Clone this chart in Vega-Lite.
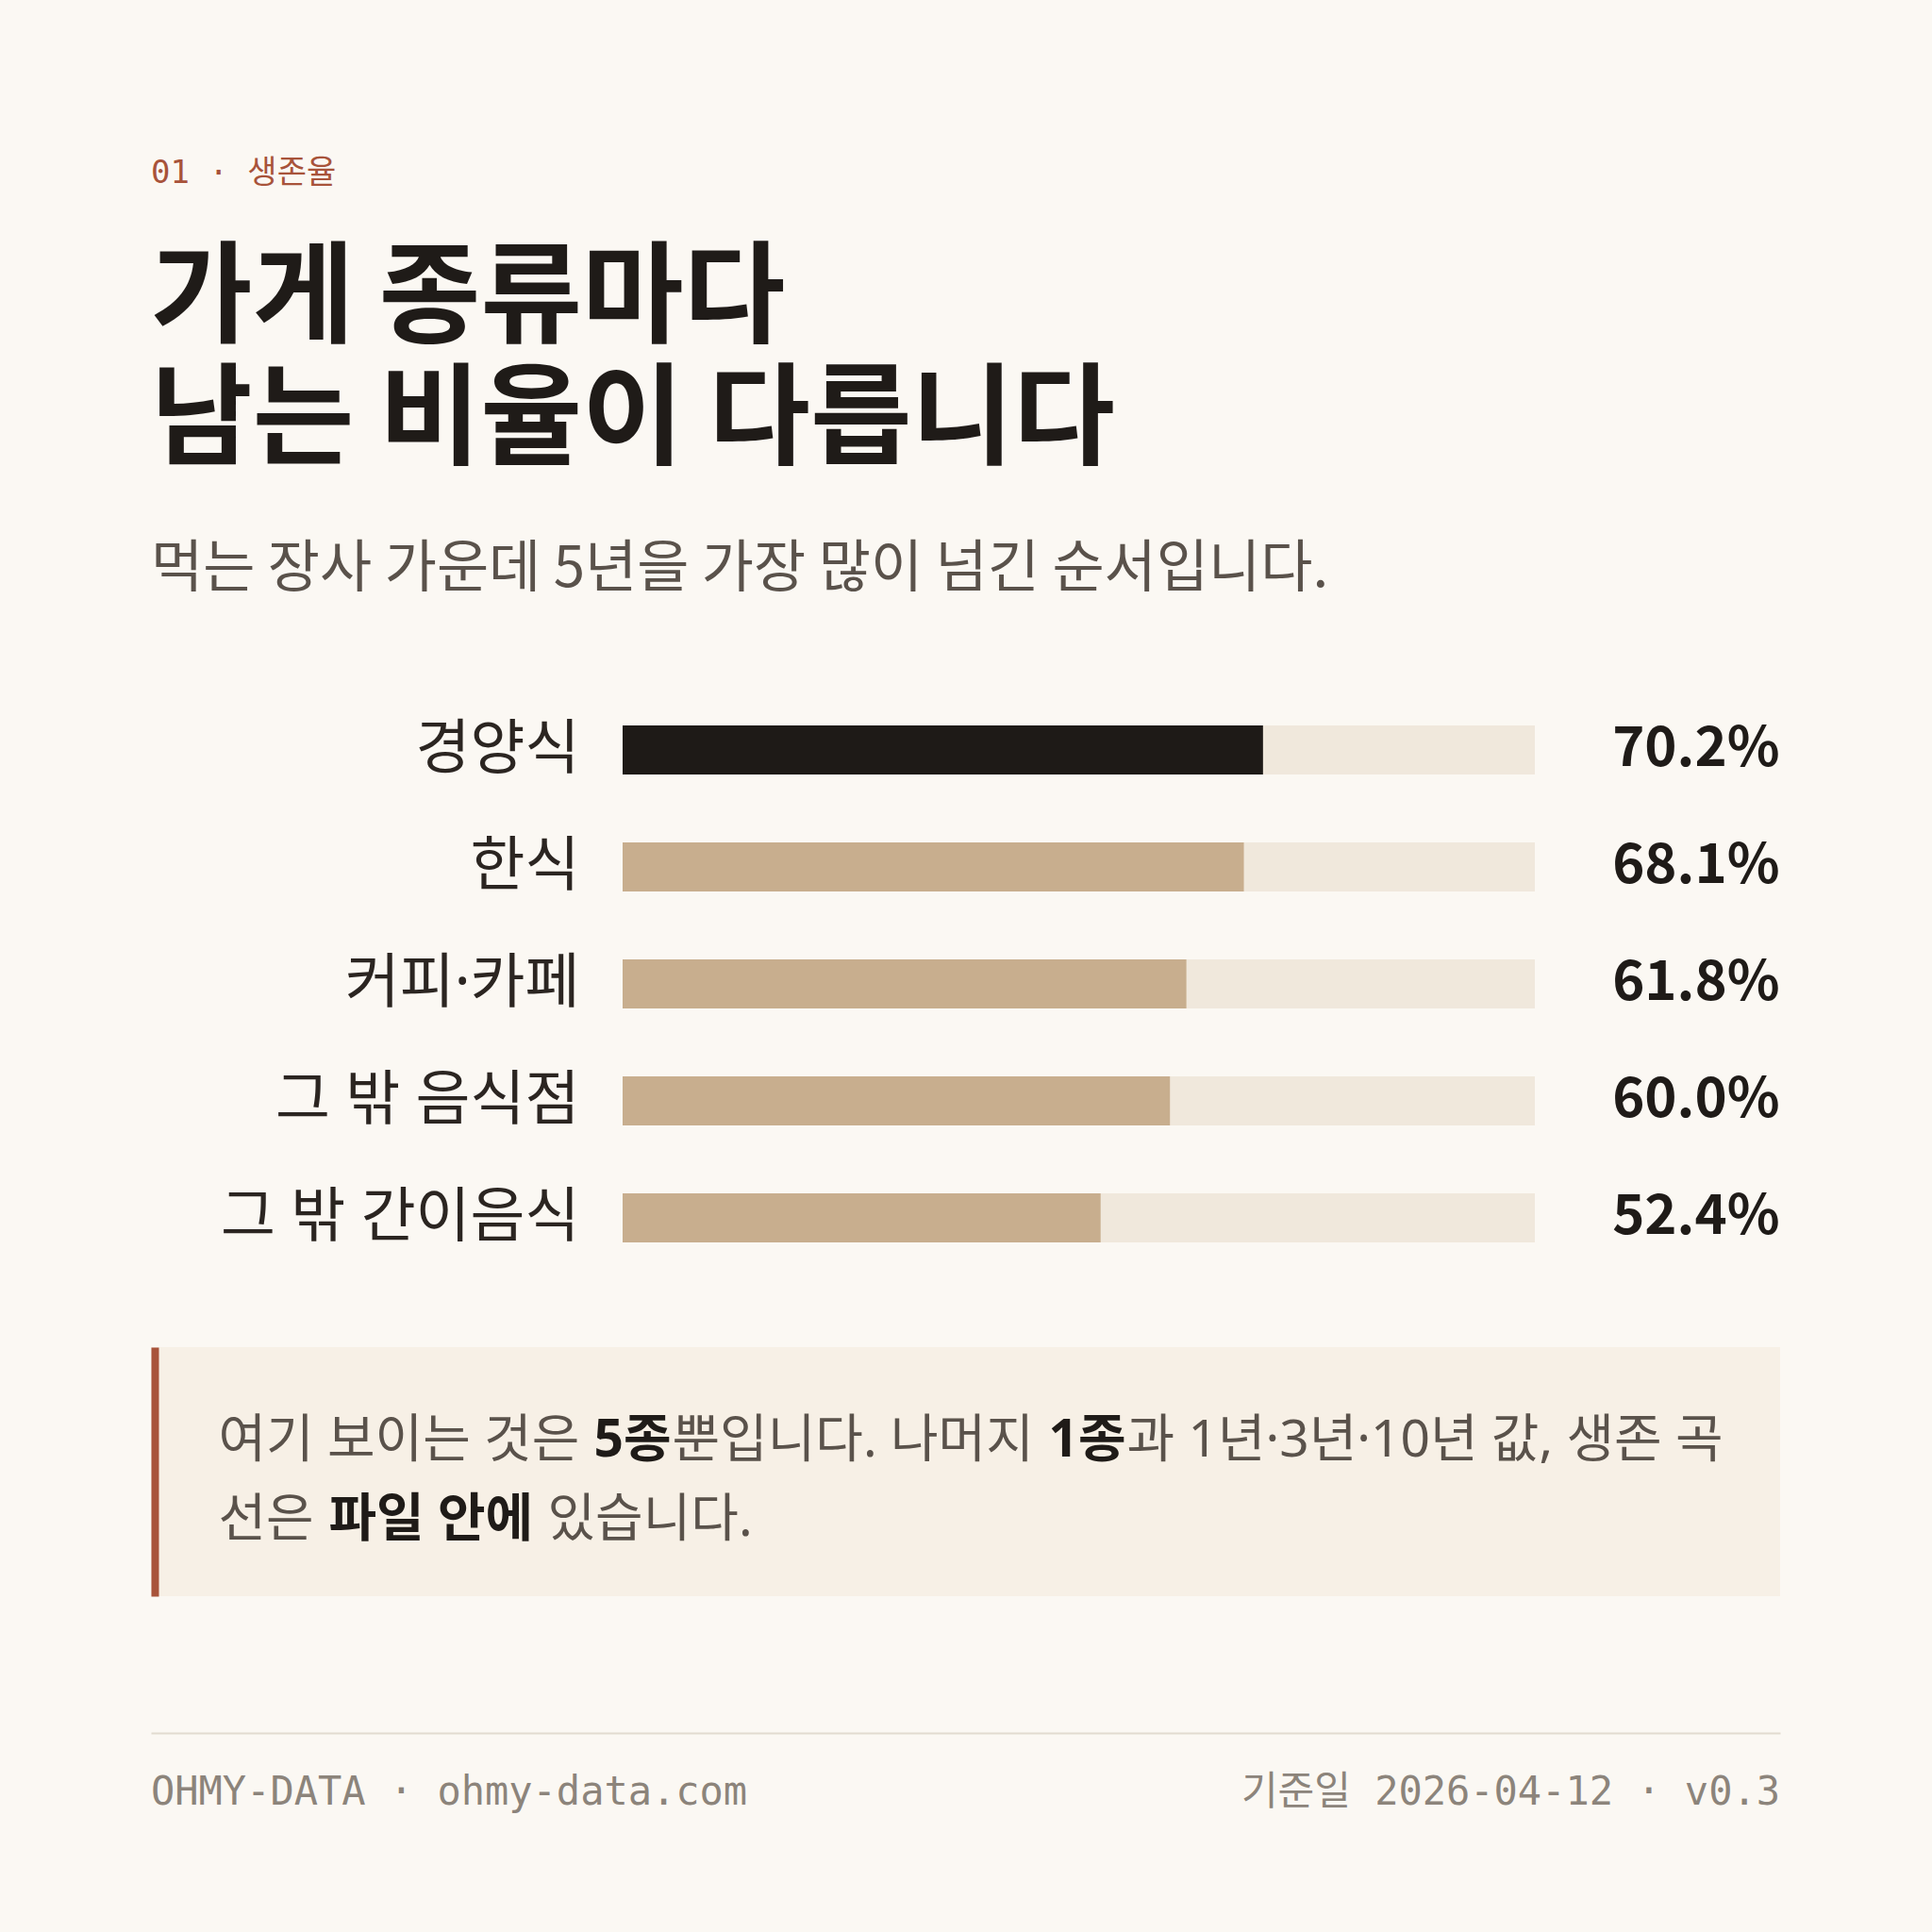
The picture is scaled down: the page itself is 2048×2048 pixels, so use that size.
{
  "$schema": "https://vega.github.io/schema/vega-lite/v6.json",
  "background": "#fbf8f3",
  "padding": {"left": 160, "top": 167, "right": 161, "bottom": 87},
  "config": {
    "font": "Noto Sans CJK KR",
    "view": {"stroke": null},
    "scale": {"bandPaddingInner": 0.58, "bandPaddingOuter": 0.29}
  },
  "title": {
    "text": "01 · 생존율",
    "anchor": "start",
    "font": "DejaVu Sans Mono, Noto Sans CJK KR",
    "fontSize": 34,
    "fontWeight": "normal",
    "color": "#a8533a",
    "offset": 59
  },
  "align": "none",
  "spacing": 145,
  "vconcat": [
    {
      "align": "none",
      "spacing": 75,
      "vconcat": [
        {
          "width": 1727,
          "height": 620,
          "title": {
            "text": ["가게 종류마다", "남는 비율이 다릅니다"],
            "subtitle": "먹는 장사 가운데 5년을 가장 많이 넘긴 순서입니다.",
            "anchor": "start",
            "frame": "bounds",
            "font": "Noto Sans CJK KR",
            "fontSize": 117,
            "fontWeight": "bold",
            "color": "#1f1b18",
            "lineHeight": 129,
            "subtitleFont": "Noto Sans CJK KR",
            "subtitleFontSize": 60,
            "subtitleFontWeight": "normal",
            "subtitleColor": "#5a524b",
            "subtitlePadding": 67,
            "offset": 97
          },
          "data": {
            "values": [
              {"category": "경양식", "pct": 70.2},
              {"category": "한식", "pct": 68.1},
              {"category": "커피·카페", "pct": 61.8},
              {"category": "그 밖 음식점", "pct": 60.0},
              {"category": "그 밖 간이음식", "pct": 52.4}
            ]
          },
          "layer": [
            {
              "mark": {"type": "bar", "color": "#f0e8dc"},
              "encoding": {
                "x": {"datum": 100, "type": "quantitative", "scale": {"domain": [-51.706, 126.887], "nice": false}, "axis": null},
                "y": {
                  "field": "pct",
                  "type": "ordinal",
                  "sort": "descending",
                  "axis": {
                    "orient": "right",
                    "title": null,
                    "domain": false,
                    "ticks": false,
                    "grid": false,
                    "labelPadding": -1,
                    "labelAlign": "right",
                    "labelBaseline": "middle",
                    "labelFont": "Noto Sans CJK KR",
                    "labelFontSize": 58,
                    "labelFontWeight": "bold",
                    "labelColor": "#1f1b18",
                    "labelLimit": 500,
                    "labelExpr": "format(datum.value, '.1f') + '%'"
                  }
                }
              }
            },
            {
              "mark": {"type": "bar"},
              "encoding": {
                "x": {"field": "pct", "type": "quantitative"},
                "y": {
                  "field": "category",
                  "type": "nominal",
                  "sort": null,
                  "axis": {
                    "orient": "left",
                    "offset": -500,
                    "title": null,
                    "domain": false,
                    "ticks": false,
                    "grid": false,
                    "labelPadding": 46,
                    "labelFont": "Noto Sans, Noto Sans CJK KR",
                    "labelFontSize": 63,
                    "labelColor": "#2b2521",
                    "labelLimit": 480
                  }
                },
                "color": {
                  "condition": {"test": "datum.category === '경양식'", "value": "#1e1a17"},
                  "value": "#c8ae8e"
                }
              }
            }
          ],
          "resolve": {"scale": {"y": "independent"}, "axis": {"y": "independent"}}
        },
        {
          "align": "none",
          "spacing": -193,
          "vconcat": [
            {
              "width": 1727,
              "height": 264,
              "view": {"fill": "#f7f0e6", "stroke": null},
              "data": {"values": [{"k": 0}]},
              "mark": {"type": "point", "opacity": 0, "size": 0},
              "encoding": {
                "y": {
                  "datum": 0,
                  "type": "quantitative",
                  "scale": {"domain": [0, 1]},
                  "axis": {
                    "orient": "left",
                    "domain": true,
                    "domainColor": "#a8533a",
                    "domainWidth": 8,
                    "offset": -4,
                    "ticks": false,
                    "labels": false,
                    "grid": false,
                    "title": null
                  }
                }
              }
            },
            {
              "spacing": 70,
              "hconcat": [
                {
                  "width": 1,
                  "height": 1,
                  "data": {"values": [{"text": ""}]},
                  "mark": {"type": "text", "fontSize": 55},
                  "encoding": {"text": {"field": "text"}}
                },
                {
                  "align": "none",
                  "spacing": 28,
                  "vconcat": [
                    {
                      "spacing": 0,
                      "hconcat": [
                        {
                          "width": 1, "height": 1,
                          "data": {"values": [{"text": "여기 보이는 것은 \u200b"}]},
                          "mark": {"type": "text", "align": "left", "baseline": "middle", "fontSize": 55, "color": "#5a524b", "font": "Noto Sans, Noto Sans CJK KR"},
                          "encoding": {"text": {"field": "text"}}
                        },
                        {
                          "width": 1, "height": 1,
                          "data": {"values": [{"text": "5종"}]},
                          "mark": {"type": "text", "align": "left", "baseline": "middle", "fontSize": 55, "fontWeight": "bold", "color": "#1f1b18", "font": "Noto Sans, Noto Sans CJK KR"},
                          "encoding": {"text": {"field": "text"}}
                        },
                        {
                          "width": 1, "height": 1,
                          "data": {"values": [{"text": "뿐입니다. 나머지 \u200b"}]},
                          "mark": {"type": "text", "align": "left", "baseline": "middle", "fontSize": 55, "color": "#5a524b", "font": "Noto Sans, Noto Sans CJK KR"},
                          "encoding": {"text": {"field": "text"}}
                        },
                        {
                          "width": 1, "height": 1,
                          "data": {"values": [{"text": "1종"}]},
                          "mark": {"type": "text", "align": "left", "baseline": "middle", "fontSize": 55, "fontWeight": "bold", "color": "#1f1b18", "font": "Noto Sans, Noto Sans CJK KR"},
                          "encoding": {"text": {"field": "text"}}
                        },
                        {
                          "width": 1, "height": 1,
                          "data": {"values": [{"text": "과 1년·3년·10년 값, 생존 곡"}]},
                          "mark": {"type": "text", "align": "left", "baseline": "middle", "fontSize": 55, "color": "#5a524b", "font": "Noto Sans, Noto Sans CJK KR"},
                          "encoding": {"text": {"field": "text"}}
                        }
                      ]
                    },
                    {
                      "spacing": 0,
                      "hconcat": [
                        {
                          "width": 1, "height": 1,
                          "data": {"values": [{"text": "선은 \u200b"}]},
                          "mark": {"type": "text", "align": "left", "baseline": "middle", "fontSize": 55, "color": "#5a524b", "font": "Noto Sans, Noto Sans CJK KR"},
                          "encoding": {"text": {"field": "text"}}
                        },
                        {
                          "width": 1, "height": 1,
                          "data": {"values": [{"text": "파일 안에 \u200b"}]},
                          "mark": {"type": "text", "align": "left", "baseline": "middle", "fontSize": 55, "fontWeight": "bold", "color": "#1f1b18", "font": "Noto Sans, Noto Sans CJK KR"},
                          "encoding": {"text": {"field": "text"}}
                        },
                        {
                          "width": 1, "height": 1,
                          "data": {"values": [{"text": "있습니다."}]},
                          "mark": {"type": "text", "align": "left", "baseline": "middle", "fontSize": 55, "color": "#5a524b", "font": "Noto Sans, Noto Sans CJK KR"},
                          "encoding": {"text": {"field": "text"}}
                        }
                      ]
                    }
                  ]
                }
              ]
            }
          ]
        }
      ]
    },
    {
      "width": 1727,
      "height": 126,
      "data": {
        "values": [
          {"side": "left", "text": "OHMY-DATA · ohmy-data.com"},
          {"side": "right", "text": "기준일 2026-04-12 · v0.3"}
        ]
      },
      "encoding": {
        "x": {
          "field": "side",
          "type": "nominal",
          "scale": {"type": "point", "padding": 0, "domain": ["left", "right"]},
          "axis": {
            "orient": "top",
            "domain": true,
            "domainColor": "#e2dbd0",
            "domainWidth": 2,
            "ticks": false,
            "labels": false,
            "grid": false,
            "title": null
          }
        },
        "text": {"field": "text"}
      },
      "layer": [
        {
          "transform": [{"filter": "datum.side === 'left'"}],
          "mark": {"type": "text", "align": "left", "baseline": "middle", "fontSize": 42, "color": "#8c847b", "font": "DejaVu Sans Mono, Noto Sans CJK KR"}
        },
        {
          "transform": [{"filter": "datum.side === 'right'"}],
          "mark": {"type": "text", "align": "right", "baseline": "middle", "fontSize": 42, "color": "#8c847b", "font": "DejaVu Sans Mono, Noto Sans CJK KR"}
        }
      ]
    }
  ]
}
